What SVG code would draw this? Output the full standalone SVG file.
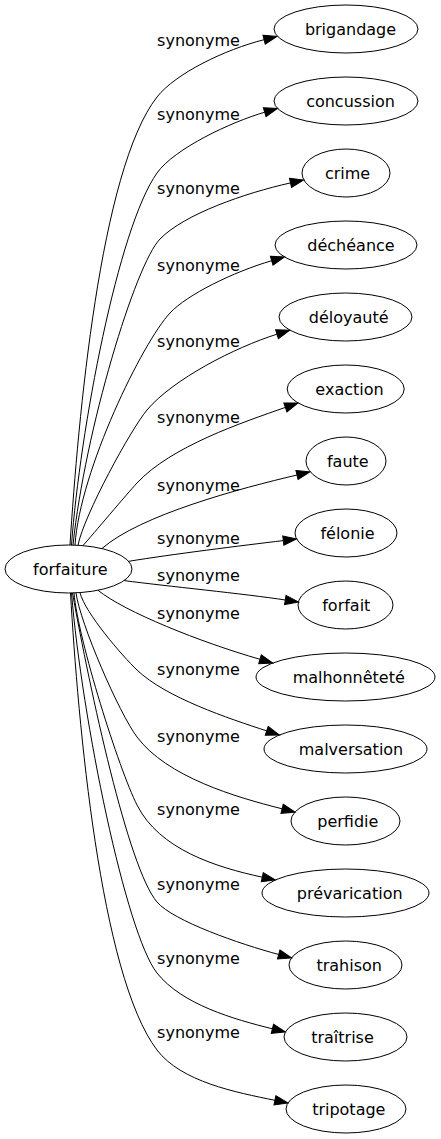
<svg xmlns="http://www.w3.org/2000/svg" width="441" height="1139" viewBox="0 0 441 1139">
<style>
.node ellipse{fill:none;stroke:#000;stroke-width:1}
text{font-family:"DejaVu Sans",Verdana,sans-serif;font-size:16px;fill:#000;text-anchor:middle}
.edge path{fill:none;stroke:#000;stroke-width:1;marker-end:url(#ah)}
</style>
<defs>
<marker id="ah" markerUnits="userSpaceOnUse" viewBox="-1 -1 16 12" refX="0" refY="5" markerWidth="16" markerHeight="12" orient="auto">
<path d="M0,0.33 L13.3,5 L0,9.67 Z" fill="#000" stroke="#000" stroke-width="1"/>
</marker>
</defs>
<rect width="441" height="1139" fill="#fff"/>
<g id="edges">
<g class="edge"><path d="M70,545 C78,420 100,170 157,97 C175.5,73.4 225.3,49.4 264.1,39.7"/><text x="198.5" y="46">synonyme</text></g>
<g class="edge"><path d="M71.5,545 C80,430 118,228 157,173 C174.4,148.5 231.1,122 264.7,112.2"/><text x="198.5" y="120">synonyme</text></g>
<g class="edge"><path d="M73,545 C85,430 135.5,264 160,239 C184.5,214 244.7,193.2 290.5,182.9"/><text x="198.5" y="194">synonyme</text></g>
<g class="edge"><path d="M75,545 C80,470 142.7,342.2 170,313 C187,294.7 233.3,271.9 271.7,260.7"/><text x="198.5" y="270.5">synonyme</text></g>
<g class="edge"><path d="M78,545.2 C84,515 130.9,429.2 147,410 C172.7,379.4 235,347.3 277,334.2"/><text x="198.5" y="346.5">synonyme</text></g>
<g class="edge"><path d="M83,545.5 C93,534.4 126.8,494 137,483 C171,446.3 242.9,422.3 285.4,407.4"/><text x="198.5" y="422.5">synonyme</text></g>
<g class="edge"><path d="M102,548.5 C140,515 241.5,488 297,475"/><text x="198.5" y="490.5">synonyme</text></g>
<g class="edge"><path d="M128.8,561.3 C170,554.5 243.6,545.3 283.3,540.6"/><text x="198.5" y="544">synonyme</text></g>
<g class="edge"><path d="M124.2,580.6 C165,586 245.8,593.9 285.3,600"/><text x="198.5" y="581">synonyme</text></g>
<g class="edge"><path d="M98,590.3 C125,612 200,642 260,659.3"/><text x="198.5" y="618.5">synonyme</text></g>
<g class="edge"><path d="M80,592.6 C85,613 122.6,656.2 137,670 C165.8,697.6 228.7,718.5 266.7,730.9"/><text x="198.5" y="674.5">synonyme</text></g>
<g class="edge"><path d="M76,592.8 C80,623 119,713 137,737 C167,777 235.5,797.1 282.1,808.8"/><text x="198.5" y="742">synonyme</text></g>
<g class="edge"><path d="M74,593 C78,640 119,769.4 137,805 C159.5,849.5 215.4,867 262.3,877.2"/><text x="198.5" y="814.5">synonyme</text></g>
<g class="edge"><path d="M72.5,593 C90,690 128,868 157,902 C173.2,921 240.1,944.1 278.7,954.5"/><text x="198.5" y="890">synonyme</text></g>
<g class="edge"><path d="M71.5,593 C82,720 126,933.8 157,973 C181.8,1004.4 233.6,1019.2 272.4,1028.8"/><text x="198.5" y="964">synonyme</text></g>
<g class="edge"><path d="M70.5,593 C78,722 100,975 157,1050 C181.2,1081.8 235.7,1092.3 274.9,1100.3"/><text x="198.5" y="1038">synonyme</text></g>
</g>
<g id="forfaiture" class="node"><ellipse cx="68.5" cy="569" rx="63.5" ry="24"/><text x="70.3" y="574.5">forfaiture</text></g>
<g id="brigandage" class="node"><ellipse cx="346" cy="29" rx="72" ry="24"/><text x="350.5" y="34.5">brigandage</text></g>
<g id="concussion" class="node"><ellipse cx="346" cy="101" rx="72" ry="24"/><text x="350.5" y="106.5">concussion</text></g>
<g id="crime" class="node"><ellipse cx="346" cy="173" rx="44" ry="24"/><text x="347.5" y="178.5">crime</text></g>
<g id="decheance" class="node"><ellipse cx="346" cy="245" rx="71" ry="24"/><text x="351" y="250.5">déchéance</text></g>
<g id="deloyaute" class="node"><ellipse cx="345.5" cy="317" rx="66.5" ry="24"/><text x="348.7" y="322.5">déloyauté</text></g>
<g id="exaction" class="node"><ellipse cx="345.7" cy="389" rx="58.5" ry="24"/><text x="349.5" y="394.5">exaction</text></g>
<g id="faute" class="node"><ellipse cx="346" cy="461" rx="40" ry="24"/><text x="347.8" y="466.5">faute</text></g>
<g id="felonie" class="node"><ellipse cx="346" cy="533" rx="51" ry="24"/><text x="347.5" y="538.5">félonie</text></g>
<g id="forfait" class="node"><ellipse cx="345.5" cy="605" rx="47.5" ry="24"/><text x="346.3" y="610.5">forfait</text></g>
<g id="malhonnetete" class="node"><ellipse cx="345.5" cy="677" rx="89.5" ry="24"/><text x="348.7" y="682.5">malhonnêteté</text></g>
<g id="malversation" class="node"><ellipse cx="345.5" cy="749" rx="81.5" ry="24"/><text x="351" y="754.5">malversation</text></g>
<g id="perfidie" class="node"><ellipse cx="345.5" cy="821" rx="54.5" ry="24"/><text x="347.8" y="826.5">perfidie</text></g>
<g id="prevarication" class="node"><ellipse cx="345.5" cy="893" rx="83.5" ry="24"/><text x="349.7" y="898.5">prévarication</text></g>
<g id="trahison" class="node"><ellipse cx="345.5" cy="965" rx="56.5" ry="24"/><text x="349.2" y="970.5">trahison</text></g>
<g id="traitrise" class="node"><ellipse cx="345.5" cy="1037" rx="61.5" ry="24"/><text x="342.5" y="1042.5">traîtrise</text></g>
<g id="tripotage" class="node"><ellipse cx="346" cy="1109" rx="60" ry="24"/><text x="348.8" y="1114.5">tripotage</text></g>
</svg>
